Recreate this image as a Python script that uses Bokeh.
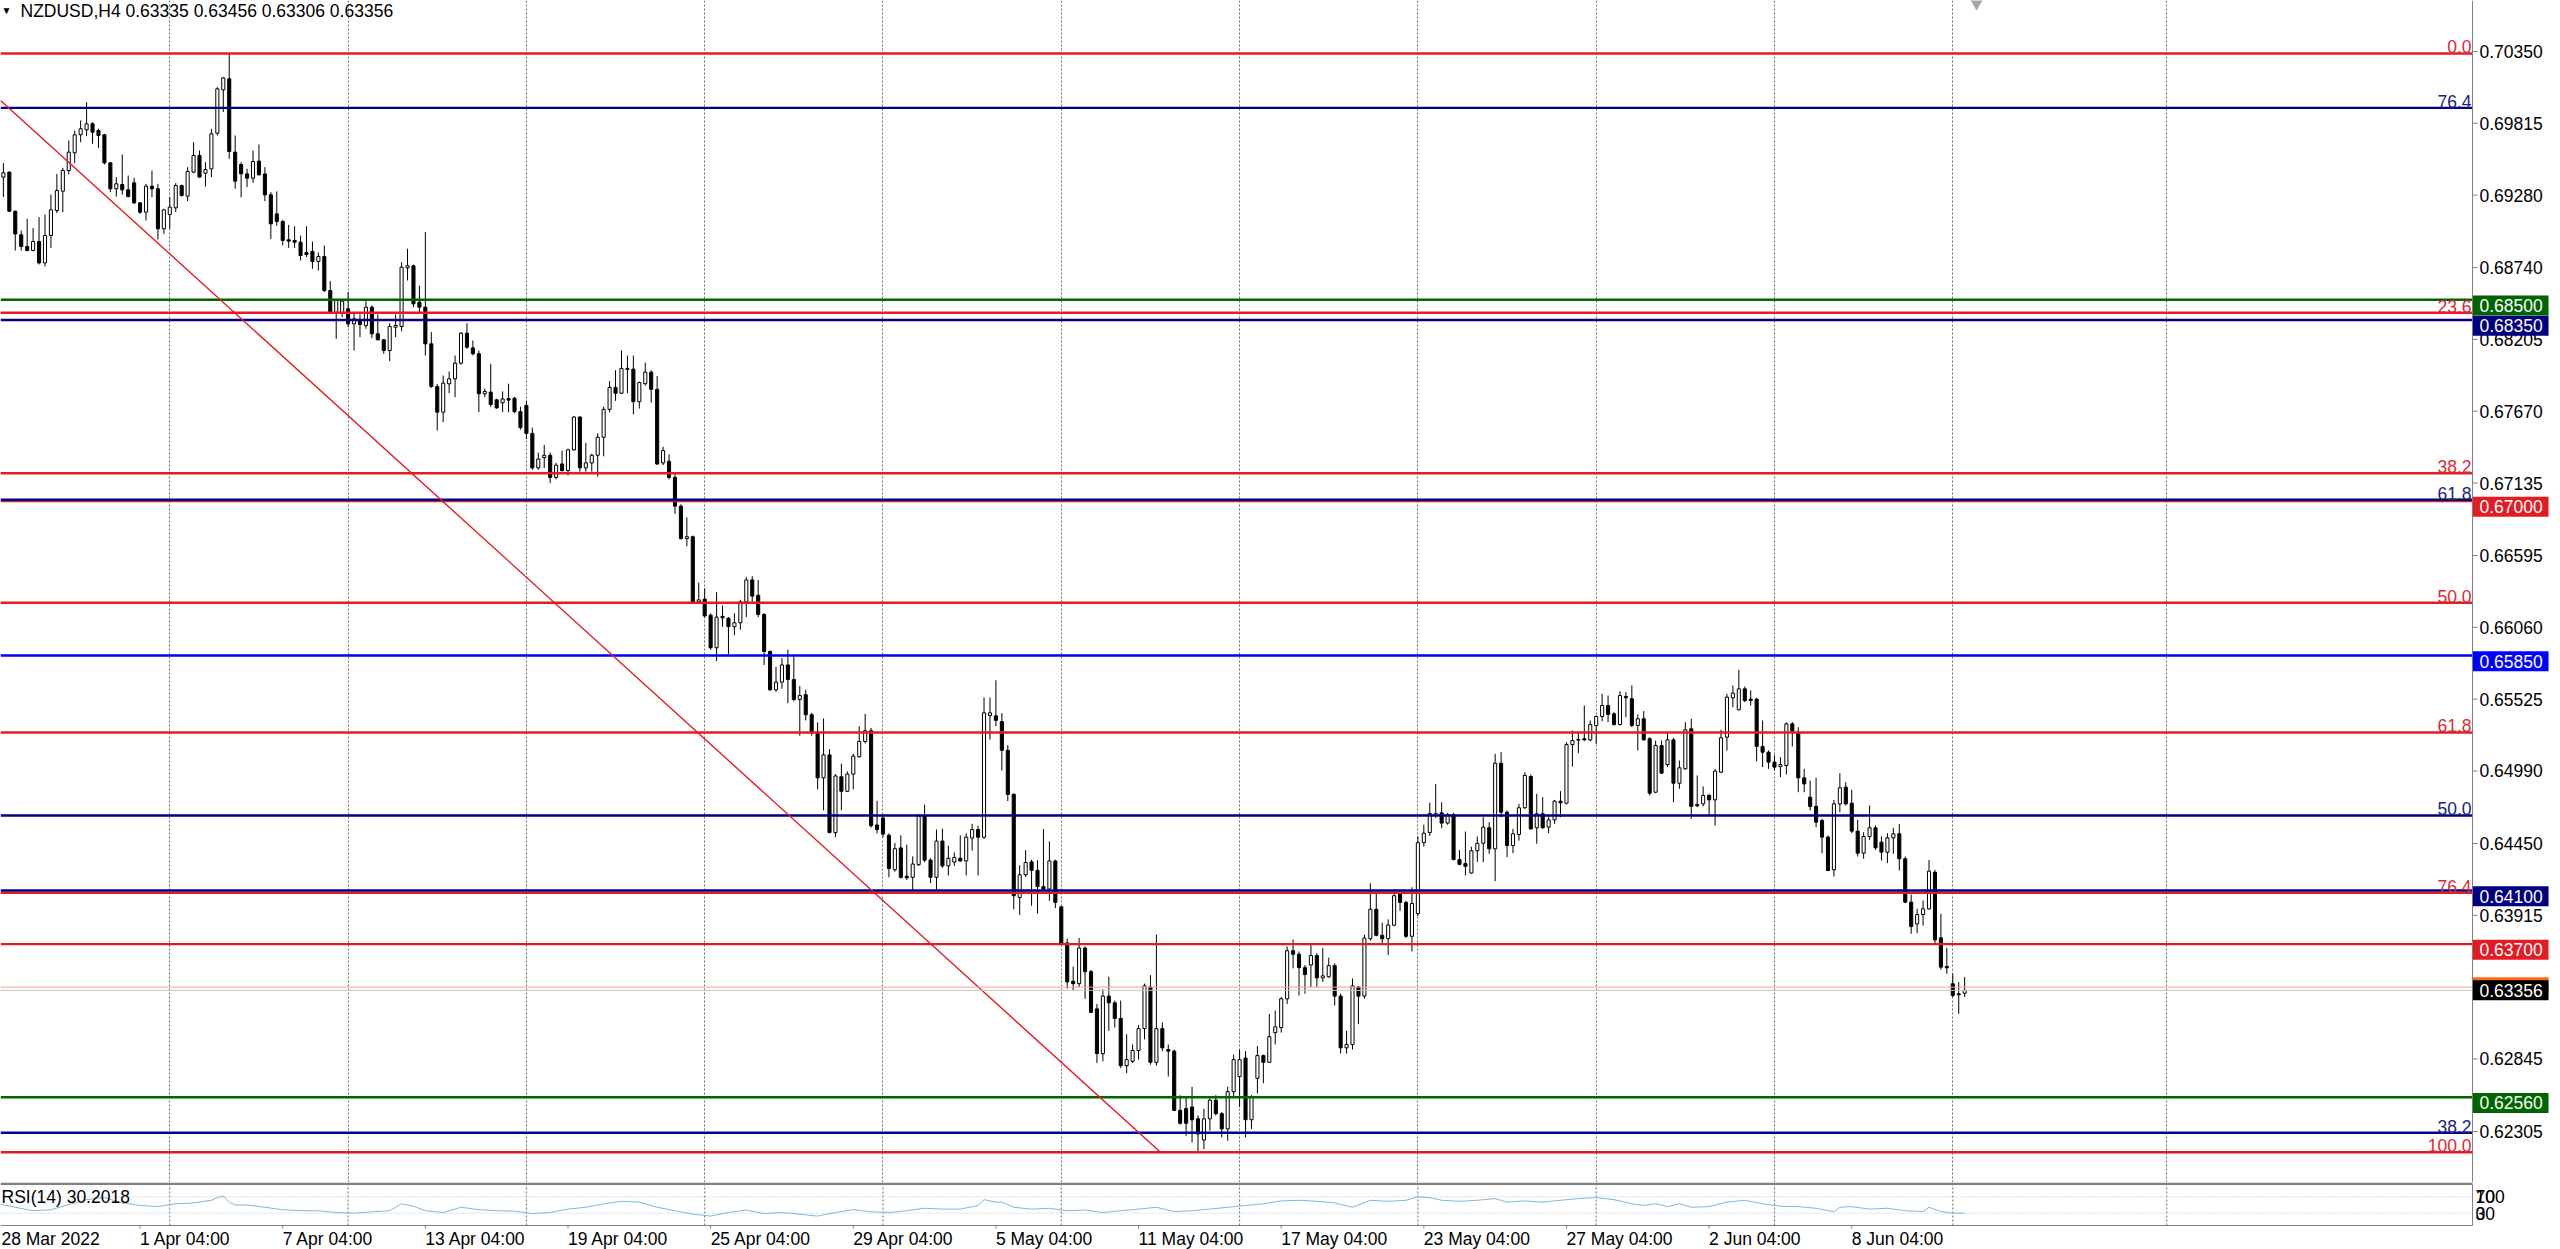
from bokeh.plotting import figure
from bokeh.models import Range1d, ColumnDataSource
from bokeh.layouts import column
from bokeh.embed import file_html
from bokeh.resources import INLINE
from bokeh.core.properties import value

FONT = "Liberation Sans"
FS = "17.5px"

# ---------------- data (NZDUSD H4, bars indexed from 1) ----------------
opens = [
    0.69414, 0.69451, 0.69160, 0.68984, 0.68897, 0.68867, 0.68934, 0.68775, 0.68979, 0.69165,
    0.69309, 0.69463, 0.69595, 0.69729, 0.69766, 0.69811, 0.69761, 0.69729, 0.69520, 0.69327,
    0.69359, 0.69319, 0.69371, 0.69222, 0.69153, 0.69346, 0.69327, 0.69029, 0.69135, 0.69185,
    0.69351, 0.69272, 0.69451, 0.69575, 0.69443, 0.69475, 0.69741, 0.70064, 0.70146, 0.69600,
    0.69508, 0.69438, 0.69406, 0.69533, 0.69438, 0.69282, 0.69140, 0.69083, 0.68947, 0.68942,
    0.68929, 0.68852, 0.68860, 0.68785, 0.68823, 0.68569, 0.68408, 0.68400, 0.68433, 0.68321,
    0.68351, 0.68309, 0.68445, 0.68247, 0.68202, 0.68122, 0.68296, 0.68301, 0.68738, 0.68753,
    0.68482, 0.68445, 0.68172, 0.67854, 0.67663, 0.67874, 0.67911, 0.68028, 0.68251, 0.68142,
    0.68098, 0.67800, 0.67812, 0.67755, 0.67733, 0.67764, 0.67767, 0.67667, 0.67713, 0.67505,
    0.67248, 0.67325, 0.67342, 0.67177, 0.67277, 0.67228, 0.67382, 0.67627, 0.67248, 0.67285,
    0.67342, 0.67476, 0.67684, 0.67847, 0.67804, 0.67981, 0.67984, 0.67741, 0.67875, 0.67961,
    0.67833, 0.67285, 0.67297, 0.67177, 0.66963, 0.66721, 0.66735, 0.66250, 0.66270, 0.66150,
    0.65908, 0.66142, 0.66128, 0.66065, 0.66094, 0.66250, 0.66413, 0.66299, 0.66156, 0.65880,
    0.65595, 0.65652, 0.65780, 0.65672, 0.65523, 0.65558, 0.65409, 0.65272, 0.64939, 0.65110,
    0.64531, 0.64947, 0.64839, 0.64967, 0.65096, 0.65210, 0.65290, 0.64588, 0.64640, 0.64511,
    0.64255, 0.64417, 0.64206, 0.64198, 0.64292, 0.64654, 0.64326, 0.64198, 0.64468, 0.64283,
    0.64312, 0.64340, 0.64320, 0.64491, 0.64554, 0.64497, 0.65404, 0.65401, 0.65358, 0.65144,
    0.64816, 0.64048, 0.64217, 0.64313, 0.64250, 0.64129, 0.64111, 0.64320, 0.63978, 0.63709,
    0.63424, 0.63406, 0.63671, 0.63495, 0.63218, 0.62885, 0.63313, 0.63263, 0.63147, 0.62795,
    0.62827, 0.62908, 0.63071, 0.63381, 0.62820, 0.63071, 0.62915, 0.62903, 0.62462, 0.62475,
    0.62487, 0.62399, 0.62241, 0.62399, 0.62538, 0.62437, 0.62324, 0.62601, 0.62714, 0.62852,
    0.62392, 0.62701, 0.62870, 0.62820, 0.63041, 0.63079, 0.63293, 0.63651, 0.63625, 0.63525,
    0.63545, 0.63615, 0.63449, 0.63457, 0.63540, 0.63313, 0.62928, 0.62953, 0.63381, 0.63313,
    0.63741, 0.63960, 0.63766, 0.63741, 0.63842, 0.64074, 0.64011, 0.63759, 0.63928, 0.64456,
    0.64532, 0.64658, 0.64678, 0.64602, 0.64665, 0.64330, 0.64300, 0.64230, 0.64396, 0.64452,
    0.64567, 0.64410, 0.65048, 0.64683, 0.64435, 0.64517, 0.64716, 0.64949, 0.64567, 0.64671,
    0.64572, 0.64626, 0.64765, 0.64750, 0.65187, 0.65220, 0.65230, 0.65222, 0.65329, 0.65396,
    0.65478, 0.65416, 0.65336, 0.65545, 0.65528, 0.65329, 0.65379, 0.65230, 0.64832, 0.65180,
    0.65038, 0.65222, 0.64899, 0.65006, 0.65304, 0.64741, 0.64745, 0.64808, 0.64775, 0.64981,
    0.65242, 0.65535, 0.65446, 0.65602, 0.65525, 0.65525, 0.65173, 0.65130, 0.65056, 0.65024,
    0.65031, 0.65341, 0.65279, 0.64939, 0.64795, 0.64726, 0.64621, 0.64497, 0.64254, 0.64745,
    0.64870, 0.64750, 0.64542, 0.64378, 0.64502, 0.64567, 0.64460, 0.64385, 0.64492, 0.64522,
    0.64336, 0.64013, 0.63851, 0.63921, 0.63963, 0.64236, 0.63747, 0.63534, 0.63405, 0.63330,
    0.63335,
]
highs = [
    0.69518, 0.69456, 0.69165, 0.69016, 0.69103, 0.69034, 0.69116, 0.69135, 0.69284, 0.69438,
    0.69483, 0.69687, 0.69761, 0.69836, 0.69972, 0.69823, 0.69774, 0.69736, 0.69525, 0.69414,
    0.69582, 0.69426, 0.69409, 0.69227, 0.69364, 0.69463, 0.69364, 0.69178, 0.69264, 0.69369,
    0.69359, 0.69488, 0.69674, 0.69612, 0.69525, 0.69773, 0.70084, 0.70158, 0.70335, 0.69724,
    0.69525, 0.69476, 0.69612, 0.69657, 0.69488, 0.69302, 0.69307, 0.69096, 0.69058, 0.69048,
    0.68979, 0.69048, 0.68934, 0.68852, 0.68904, 0.68639, 0.68507, 0.68500, 0.68557, 0.68395,
    0.68391, 0.68490, 0.68458, 0.68391, 0.68209, 0.68326, 0.68391, 0.68780, 0.68880, 0.68763,
    0.68606, 0.69004, 0.68259, 0.67874, 0.67936, 0.67966, 0.68085, 0.68259, 0.68326, 0.68197,
    0.68122, 0.67837, 0.68023, 0.67762, 0.67818, 0.67875, 0.67776, 0.67704, 0.67747, 0.67548,
    0.67362, 0.67419, 0.67362, 0.67285, 0.67377, 0.67391, 0.67633, 0.67633, 0.67434, 0.67354,
    0.67505, 0.67704, 0.67895, 0.67975, 0.68123, 0.68084, 0.68084, 0.67890, 0.68032, 0.67975,
    0.67932, 0.67405, 0.67348, 0.67205, 0.66977, 0.66878, 0.66744, 0.66393, 0.66350, 0.66165,
    0.66322, 0.66222, 0.66136, 0.66165, 0.66265, 0.66436, 0.66441, 0.66413, 0.66165, 0.65888,
    0.65766, 0.65831, 0.65894, 0.65851, 0.65623, 0.65595, 0.65424, 0.65352, 0.65381, 0.65153,
    0.64967, 0.65044, 0.64987, 0.65119, 0.65324, 0.65415, 0.65310, 0.64768, 0.64654, 0.64526,
    0.64454, 0.64511, 0.64440, 0.64354, 0.64668, 0.64739, 0.64340, 0.64554, 0.64560, 0.64434,
    0.64383, 0.64511, 0.64526, 0.64597, 0.64583, 0.65538, 0.65538, 0.65666, 0.65421, 0.65182,
    0.64824, 0.64288, 0.64401, 0.64330, 0.64325, 0.64557, 0.64464, 0.64330, 0.63986, 0.63741,
    0.63532, 0.63746, 0.63683, 0.63507, 0.63255, 0.63364, 0.63457, 0.63280, 0.63280, 0.63029,
    0.62953, 0.63097, 0.63406, 0.63469, 0.63771, 0.63117, 0.62953, 0.62915, 0.62575, 0.62563,
    0.62638, 0.62424, 0.62475, 0.62550, 0.62575, 0.62450, 0.62638, 0.62878, 0.62915, 0.62903,
    0.62575, 0.62941, 0.62878, 0.63180, 0.63205, 0.63306, 0.63683, 0.63734, 0.63646, 0.63545,
    0.63696, 0.63633, 0.63671, 0.63600, 0.63557, 0.63331, 0.63054, 0.63444, 0.63389, 0.63771,
    0.64154, 0.64074, 0.63860, 0.63885, 0.64111, 0.64086, 0.64023, 0.64124, 0.64502, 0.64590,
    0.64754, 0.64892, 0.64758, 0.64678, 0.64678, 0.64401, 0.64539, 0.64426, 0.64502, 0.64646,
    0.64609, 0.65118, 0.65130, 0.64696, 0.64559, 0.64745, 0.64981, 0.64964, 0.64820, 0.64795,
    0.64651, 0.64775, 0.64840, 0.65205, 0.65292, 0.65287, 0.65478, 0.65366, 0.65403, 0.65565,
    0.65552, 0.65428, 0.65585, 0.65577, 0.65627, 0.65411, 0.65436, 0.65242, 0.65217, 0.65217,
    0.65279, 0.65237, 0.65068, 0.65354, 0.65379, 0.64957, 0.64875, 0.64820, 0.65006, 0.65297,
    0.65565, 0.65627, 0.65744, 0.65619, 0.65590, 0.65535, 0.65366, 0.65143, 0.65106, 0.65093,
    0.65354, 0.65354, 0.65316, 0.65006, 0.64919, 0.64939, 0.64634, 0.64510, 0.64775, 0.64974,
    0.64907, 0.64850, 0.64626, 0.64534, 0.64733, 0.64584, 0.64502, 0.64527, 0.64567, 0.64596,
    0.64353, 0.64070, 0.63963, 0.64025, 0.64328, 0.64254, 0.63926, 0.63673, 0.63479, 0.63417,
    0.63456,
]
lows = [
    0.69265, 0.69153, 0.68867, 0.68867, 0.68862, 0.68862, 0.68763, 0.68748, 0.68887, 0.69145,
    0.69153, 0.69433, 0.69518, 0.69674, 0.69719, 0.69662, 0.69632, 0.69508, 0.69302, 0.69269,
    0.69284, 0.69264, 0.69215, 0.69140, 0.69091, 0.69264, 0.68949, 0.68991, 0.69029, 0.69153,
    0.69269, 0.69235, 0.69443, 0.69409, 0.69344, 0.69414, 0.69724, 0.69898, 0.69550, 0.69327,
    0.69264, 0.69339, 0.69371, 0.69426, 0.69235, 0.68954, 0.69051, 0.68905, 0.68887, 0.68887,
    0.68793, 0.68818, 0.68731, 0.68718, 0.68557, 0.68400, 0.68209, 0.68371, 0.68296, 0.68122,
    0.68222, 0.68284, 0.68214, 0.68197, 0.68098, 0.68043, 0.68222, 0.68266, 0.68644, 0.68445,
    0.68408, 0.68085, 0.67844, 0.67526, 0.67589, 0.67804, 0.67775, 0.68016, 0.68135, 0.68085,
    0.67663, 0.67775, 0.67700, 0.67688, 0.67662, 0.67662, 0.67656, 0.67533, 0.67462, 0.67234,
    0.67234, 0.67248, 0.67134, 0.67163, 0.67220, 0.67191, 0.67377, 0.67220, 0.67220, 0.67220,
    0.67183, 0.67334, 0.67662, 0.67747, 0.67798, 0.67804, 0.67647, 0.67690, 0.67861, 0.67733,
    0.67268, 0.67268, 0.67163, 0.66906, 0.66715, 0.66664, 0.66245, 0.66236, 0.66136, 0.65894,
    0.65808, 0.66065, 0.65860, 0.66002, 0.66042, 0.66136, 0.66250, 0.66136, 0.65780, 0.65586,
    0.65580, 0.65603, 0.65495, 0.65509, 0.65253, 0.65367, 0.65253, 0.64853, 0.64697, 0.64526,
    0.64497, 0.64697, 0.64833, 0.64853, 0.65090, 0.65195, 0.64568, 0.64526, 0.64497, 0.64198,
    0.64240, 0.64189, 0.64178, 0.64098, 0.64283, 0.64312, 0.64155, 0.64098, 0.64269, 0.64212,
    0.64283, 0.64312, 0.64212, 0.64397, 0.64212, 0.64483, 0.65224, 0.65324, 0.64993, 0.64766,
    0.63960, 0.63918, 0.64200, 0.63986, 0.63928, 0.64099, 0.64023, 0.63968, 0.63696, 0.63369,
    0.63356, 0.63381, 0.63293, 0.63187, 0.62815, 0.62827, 0.63054, 0.63079, 0.62777, 0.62739,
    0.62815, 0.62840, 0.62991, 0.62802, 0.62795, 0.62903, 0.62714, 0.62457, 0.62356, 0.62273,
    0.62223, 0.62150, 0.62173, 0.62311, 0.62424, 0.62261, 0.62236, 0.62563, 0.62487, 0.62261,
    0.62324, 0.62588, 0.62664, 0.62815, 0.62953, 0.63041, 0.63255, 0.63520, 0.63318, 0.63331,
    0.63381, 0.63381, 0.63419, 0.63449, 0.63243, 0.62885, 0.62885, 0.62915, 0.63104, 0.63293,
    0.63726, 0.63759, 0.63709, 0.63620, 0.63834, 0.63948, 0.63746, 0.63646, 0.63910, 0.64426,
    0.64507, 0.64640, 0.64565, 0.64590, 0.64325, 0.64288, 0.64212, 0.64225, 0.64313, 0.64311,
    0.64373, 0.64169, 0.64646, 0.64348, 0.64378, 0.64472, 0.64708, 0.64552, 0.64448, 0.64559,
    0.64527, 0.64596, 0.64646, 0.64741, 0.65024, 0.65123, 0.65212, 0.65212, 0.65192, 0.65361,
    0.65354, 0.65329, 0.65329, 0.65391, 0.65317, 0.65143, 0.65217, 0.64808, 0.64825, 0.64969,
    0.65019, 0.64758, 0.64857, 0.64999, 0.64634, 0.64721, 0.64726, 0.64659, 0.64584, 0.64974,
    0.65143, 0.65466, 0.65441, 0.65503, 0.65478, 0.65063, 0.65019, 0.65006, 0.64994, 0.64944,
    0.64964, 0.65173, 0.64832, 0.64832, 0.64696, 0.64572, 0.64378, 0.64244, 0.64204, 0.64683,
    0.64733, 0.64527, 0.64353, 0.64336, 0.64477, 0.64403, 0.64323, 0.64304, 0.64373, 0.64249,
    0.64006, 0.63777, 0.63782, 0.63839, 0.63956, 0.63703, 0.63509, 0.63479, 0.63305, 0.63181,
    0.63306,
]
closes = [
    0.69446, 0.69160, 0.68991, 0.68897, 0.68867, 0.68934, 0.68775, 0.68979, 0.69170, 0.69314,
    0.69463, 0.69600, 0.69729, 0.69774, 0.69811, 0.69749, 0.69724, 0.69520, 0.69327, 0.69364,
    0.69319, 0.69269, 0.69222, 0.69153, 0.69346, 0.69327, 0.69029, 0.69170, 0.69190, 0.69351,
    0.69277, 0.69456, 0.69575, 0.69414, 0.69470, 0.69736, 0.70071, 0.70153, 0.69605, 0.69384,
    0.69438, 0.69406, 0.69530, 0.69431, 0.69282, 0.69066, 0.69083, 0.68942, 0.68937, 0.68929,
    0.68830, 0.68837, 0.68785, 0.68823, 0.68569, 0.68408, 0.68500, 0.68490, 0.68321, 0.68358,
    0.68316, 0.68445, 0.68247, 0.68202, 0.68122, 0.68301, 0.68309, 0.68743, 0.68753, 0.68470,
    0.68445, 0.68172, 0.67854, 0.67663, 0.67879, 0.67911, 0.68028, 0.68251, 0.68147, 0.68098,
    0.67800, 0.67817, 0.67720, 0.67695, 0.67761, 0.67753, 0.67667, 0.67548, 0.67505, 0.67248,
    0.67314, 0.67342, 0.67177, 0.67268, 0.67228, 0.67382, 0.67627, 0.67248, 0.67285, 0.67342,
    0.67476, 0.67684, 0.67847, 0.67804, 0.67989, 0.67989, 0.67741, 0.67884, 0.67961, 0.67833,
    0.67277, 0.67377, 0.67177, 0.66963, 0.66721, 0.66735, 0.66250, 0.66265, 0.66145, 0.65908,
    0.66136, 0.66131, 0.66065, 0.66094, 0.66250, 0.66413, 0.66293, 0.66156, 0.65880, 0.65595,
    0.65652, 0.65780, 0.65672, 0.65523, 0.65552, 0.65409, 0.65272, 0.64939, 0.65110, 0.64531,
    0.64953, 0.64839, 0.64967, 0.65101, 0.65210, 0.65290, 0.64583, 0.64554, 0.64520, 0.64263,
    0.64411, 0.64198, 0.64195, 0.64297, 0.64654, 0.64326, 0.64198, 0.64468, 0.64283, 0.64340,
    0.64346, 0.64320, 0.64497, 0.64554, 0.64497, 0.65423, 0.65423, 0.65367, 0.65144, 0.64816,
    0.64061, 0.64217, 0.64308, 0.64250, 0.64129, 0.64111, 0.64320, 0.64011, 0.63709, 0.63419,
    0.63406, 0.63671, 0.63495, 0.63192, 0.62885, 0.63313, 0.63263, 0.63147, 0.62795, 0.62840,
    0.62908, 0.63071, 0.63389, 0.62820, 0.63071, 0.62928, 0.62903, 0.62462, 0.62366, 0.62366,
    0.62392, 0.62286, 0.62399, 0.62538, 0.62437, 0.62324, 0.62601, 0.62840, 0.62840, 0.62392,
    0.62558, 0.62870, 0.62820, 0.63011, 0.63084, 0.63293, 0.63651, 0.63625, 0.63525, 0.63474,
    0.63615, 0.63449, 0.63464, 0.63540, 0.63313, 0.62928, 0.62953, 0.63389, 0.63313, 0.63746,
    0.63960, 0.63766, 0.63741, 0.63842, 0.64061, 0.64011, 0.63759, 0.64003, 0.64456, 0.64527,
    0.64673, 0.64673, 0.64602, 0.64665, 0.64330, 0.64295, 0.64280, 0.64396, 0.64451, 0.64572,
    0.64410, 0.65048, 0.64683, 0.64435, 0.64522, 0.64716, 0.64957, 0.64559, 0.64671, 0.64567,
    0.64626, 0.64765, 0.64753, 0.65187, 0.65217, 0.65225, 0.65222, 0.65336, 0.65396, 0.65478,
    0.65411, 0.65336, 0.65552, 0.65535, 0.65329, 0.65379, 0.65222, 0.64825, 0.65180, 0.64974,
    0.65222, 0.64899, 0.65014, 0.65297, 0.64726, 0.64731, 0.64808, 0.64775, 0.64989, 0.65237,
    0.65540, 0.65570, 0.65602, 0.65515, 0.65515, 0.65173, 0.65130, 0.65056, 0.65019, 0.65038,
    0.65341, 0.65287, 0.64939, 0.64894, 0.64726, 0.64609, 0.64497, 0.64249, 0.64745, 0.64865,
    0.64745, 0.64542, 0.64378, 0.64502, 0.64567, 0.64418, 0.64385, 0.64492, 0.64522, 0.64336,
    0.64013, 0.63832, 0.63921, 0.63963, 0.64244, 0.63732, 0.63529, 0.63524, 0.63318, 0.63323,
    0.63356,
]
first_bar = 1

price_ticks = [0.70350, 0.69815, 0.69280, 0.68740, 0.68205, 0.67670, 0.67135, 0.66595,
               0.66060, 0.65525, 0.64990, 0.64450, 0.63915, 0.62845, 0.62305]

time_label_idx = [0, 24, 48, 72, 96, 120, 144, 168, 192, 216, 240, 264, 288, 312]
time_labels = ["28 Mar 2022", "1 Apr 04:00", "7 Apr 04:00", "13 Apr 04:00", "19 Apr 04:00",
               "25 Apr 04:00", "29 Apr 04:00", "5 May 04:00", "11 May 04:00", "17 May 04:00",
               "23 May 04:00", "27 May 04:00", "2 Jun 04:00", "8 Jun 04:00"]
week_grid_idx = [29, 59, 89, 119, 149, 179, 209, 239, 269, 299, 329, 365]
shift_marker_idx = 333

red_fib_levels = [0.70335, 0.68403, 0.67208, 0.66243, 0.65277, 0.64082, 0.62150]
red_fib_names = ["0.0", "23.6", "38.2", "50.0", "61.8", "76.4", "100.0"]
navy_fib_levels = [0.69930, 0.67010, 0.64659, 0.62295]
navy_fib_names = ["76.4", "61.8", "50.0", "38.2"]

RED, NAVY, BLUE, GREEN = "#e31b23", "#000080", "#0000ff", "#006400"
level_prices = [0.68500, 0.68350, 0.67000, 0.65850, 0.64100, 0.63700, 0.62560]
level_colors = [GREEN, NAVY, RED, BLUE, NAVY, RED, GREEN]

trend_idx = [0.515, 195.7]
trend_price = [0.69985, 0.62150]

bid_price = 0.63356
ask_price = 0.63380

title_text = "NZDUSD,H4  0.63335 0.63456 0.63306 0.63356"

rsi_idx = [0, 3, 6, 9, 12, 15, 18, 21, 24, 27, 30, 33, 36, 37, 38, 39, 40, 42, 45, 48,
           51, 54, 57, 60, 63, 66, 68, 70, 72, 75, 78, 81, 84, 87, 90, 93, 96, 99, 102, 105,
           108, 111, 114, 117, 120, 123, 126, 129, 132, 135, 138, 141, 144, 147, 150, 153, 156, 159, 162, 165,
           166, 168, 169, 171, 174, 177, 180, 183, 186, 189, 192, 195, 198, 201, 204, 207, 210, 213, 216, 219,
           222, 225, 228, 231, 234, 237, 239, 241, 243, 246, 249, 252, 254, 257, 260, 263, 266, 269, 272, 275,
           277, 279, 281, 283, 285, 288, 291, 294, 297, 300, 303, 306, 309, 310, 312, 315, 318, 321, 324, 325,
           327, 329, 331]
rsi_val = [53, 44.5, 36, 38.5, 51, 63, 68, 55, 49, 46, 53, 55, 61.5, 68, 72, 57, 50, 50, 44.5, 38.5,
           36, 36, 31.7, 30, 33.4, 36, 53, 47, 36, 31.7, 44.5, 38.5, 36, 35, 29, 31.7, 40, 44.5, 53, 59,
           57, 44.5, 36, 27.5, 23, 31.7, 37.7, 29, 31.7, 27.5, 23, 31.7, 38.5, 33.4, 31.7, 36, 42, 40, 40, 48.7,
           63, 57, 57, 44.5, 40, 42, 36, 37.7, 31.7, 36, 40, 44.5, 34, 36, 40, 44.5, 48.7, 53, 60, 61.5,
           59, 55, 44.5, 61.5, 59, 61.5, 70, 68, 61.5, 59, 61.5, 65.7, 57, 60, 57, 61.5, 65.7, 68, 63, 53,
           49, 53, 46, 53, 44.5, 46, 57, 61.5, 53, 47, 46, 42, 33.4, 44.5, 46, 40, 42, 36, 34, 44.5,
           34, 30, 30.2]
rsi_caption = "RSI(14) 30.2018"
rsi_levels = [30, 70]
rsi_scale_labels = ["30", "70"]
rsi_bound_labels = ["0", "100"]

# ---------------- geometry (screen calibration) ----------------
W = 2560
MAIN_H = 1182
RSI_H = 67
PX_PER_BAR = 5.9433
BPX = 1.0 / PX_PER_BAR          # bars per pixel
X0 = 0.515                      # bar index at left edge
XA = 416.45                     # bar index at price-axis line
X1 = X0 + W * BPX
PPX = 7.4491e-5                 # price per pixel
Y1 = 0.707295
Y0 = Y1 - MAIN_H * PPX
RPX = 0.41                      # pixels per RSI unit
R1 = 100 + 2 / RPX
R0 = R1 - RSI_H / RPX

xr = Range1d(X0, X1)
GRID = "#6c6c6c"
AXIS = "#808080"

main = figure(width=W, height=MAIN_H, x_range=xr, y_range=Range1d(Y0, Y1),
              output_backend="svg", toolbar_location=None,
              x_axis_location=None, y_axis_location=None,
              min_border=0, outline_line_color=None,
              background_fill_color="white", border_fill_color="white")
main.grid.visible = False

main.vspan(x=week_grid_idx, line_color=GRID, line_width=1, line_dash="2 2")

bar_idx = list(range(first_bar, first_bar + len(opens)))
src = ColumnDataSource(dict(
    x=bar_idx, h=highs, l=lows,
    top=[max(o, c) for o, c in zip(opens, closes)],
    bottom=[min(o, c) for o, c in zip(opens, closes)],
    fill=["white" if c >= o else "black" for o, c in zip(opens, closes)],
))
main.segment(x0="x", y0="h", x1="x", y1="l", source=src, line_color="black", line_width=1)
main.vbar(x="x", top="top", bottom="bottom", width=0.52, source=src,
          fill_color="fill", line_color="black", line_width=1)


def hlines(fig, ys, colors, width, dash="solid"):
    n = len(ys)
    fig.segment(x0=[X0] * n, x1=[XA] * n, y0=ys, y1=ys, line_color=colors,
                line_width=width, line_dash=dash)


hlines(main, red_fib_levels, RED, 2.4)
hlines(main, level_prices, level_colors, 2.4)
hlines(main, navy_fib_levels, NAVY, 2.4)
main.line(trend_idx, trend_price, line_color=RED, line_width=1.4)
hlines(main, [ask_price], "#f4a58a", 1)
hlines(main, [bid_price], "#c4c4c4", 1)

main.text(x=[XA] * len(red_fib_levels), y=red_fib_levels, text=red_fib_names,
          text_align="right", text_baseline="bottom", x_offset=-1,
          text_color="#dc2832", text_font=value(FONT), text_font_size=FS)
main.text(x=[XA] * len(navy_fib_levels), y=navy_fib_levels, text=navy_fib_names,
          text_align="right", text_baseline="bottom", x_offset=-1,
          text_color="#202080", text_font=value(FONT), text_font_size=FS)

# price scale (right side)
main.segment(x0=[XA], x1=[XA], y0=[Y0], y1=[Y1], line_color=AXIS, line_width=1)
nt = len(price_ticks)
main.segment(x0=[XA] * nt, x1=[XA + 5 * BPX] * nt, y0=price_ticks, y1=price_ticks,
             line_color=AXIS, line_width=1)
main.text(x=[XA] * nt, y=price_ticks, text=[f"{t:.5f}" for t in price_ticks],
          x_offset=7, text_align="left", text_baseline="middle", text_color="black",
          text_font=value(FONT), text_font_size=FS)


# price boxes on the scale
def price_boxes(prices, centers, colors, with_text=True):
    n = len(prices)
    s = ColumnDataSource(dict(
        left=[XA + 0.4 * BPX] * n,
        right=[XA + 76 * BPX] * n,
        tx=[XA] * n,
        top=[c + 10 * PPX for c in centers],
        bottom=[c - 10 * PPX for c in centers],
        color=colors,
        ty=centers,
        t=[f"{p:.5f}" for p in prices],
    ))
    main.quad(left="left", right="right", top="top", bottom="bottom", fill_color="color",
              line_color=None, source=s)
    if with_text:
        main.text(x="tx", y="ty", text="t", source=s, x_offset=7,
                  text_align="left", text_baseline="middle", text_color="white",
                  text_font=value(FONT), text_font_size=FS)


price_boxes(level_prices, [p - 5.7 * PPX for p in level_prices], level_colors)
price_boxes([ask_price], [ask_price], ["#ff6a1a"], with_text=False)
price_boxes([bid_price], [bid_price], ["black"])

# title and chart-shift marker
main.text(x=[X0], y=[Y1 - 10 * PPX], text=["\u25bc"], x_offset=1, text_align="left",
          text_baseline="middle", text_color="black", text_font=value(FONT), text_font_size="10px")
main.text(x=[X0], y=[Y1 - 10.5 * PPX], text=[title_text], x_offset=20, text_align="left",
          text_baseline="middle", text_color="black", text_font=value(FONT), text_font_size=FS)
main.scatter(x=[shift_marker_idx], y=[Y1], marker="inverted_triangle", size=16,
             fill_color="#a8a8a8", line_color="#a8a8a8")

# ---------------- RSI panel ----------------
rsi = figure(width=W, height=RSI_H, x_range=xr, y_range=Range1d(R0, R1),
             output_backend="svg", toolbar_location=None,
             x_axis_location=None, y_axis_location=None,
             min_border=0, outline_line_color=None,
             background_fill_color="white", border_fill_color="white")
rsi.grid.visible = False

ng = len(week_grid_idx)
rsi.segment(x0=week_grid_idx, y0=[0] * ng, x1=week_grid_idx, y1=[100] * ng,
            line_color=GRID, line_width=1, line_dash="2 2")
hlines(rsi, rsi_levels, "#bdbdbd", 1, "1 2")
hlines(rsi, [0, 100], AXIS, 1)
hlines(rsi, [100 + 1.2 / RPX], AXIS, 1.5)
rsi.segment(x0=[XA], x1=[XA], y0=[0], y1=[100], line_color=AXIS, line_width=1)
rsi.line(rsi_idx, rsi_val, line_color="#84b6d4", line_width=1)

rsi.text(x=[XA] * 2, y=rsi_levels, text=rsi_scale_labels, x_offset=3, text_align="left",
         text_baseline="middle", text_color="black", text_font=value(FONT), text_font_size=FS)
rsi.text(x=[XA] * 2, y=rsi_levels, text=rsi_bound_labels, x_offset=3, text_align="left",
         text_baseline="middle", text_color="black", text_font=value(FONT), text_font_size=FS)
rsi.text(x=[X0], y=[70], text=[rsi_caption], x_offset=1, text_align="left",
         text_baseline="middle", text_color="black", text_font=value(FONT), text_font_size=FS)

nl = len(time_label_idx)
rsi.segment(x0=time_label_idx, y0=[0] * nl, x1=time_label_idx, y1=[-3 / RPX] * nl,
            line_color=AXIS, line_width=1)
tsrc = ColumnDataSource(dict(x=time_label_idx, y=[-13.5 / RPX] * nl, t=time_labels,
                             dx=[4] + [0] * (nl - 1)))
rsi.text(x="x", y="y", text="t", x_offset="dx", source=tsrc, text_align="left",
         text_baseline="middle", text_color="black", text_font=value(FONT), text_font_size=FS)

layout = column(main, rsi)
open("out.html", "w").write(file_html(layout, INLINE))
